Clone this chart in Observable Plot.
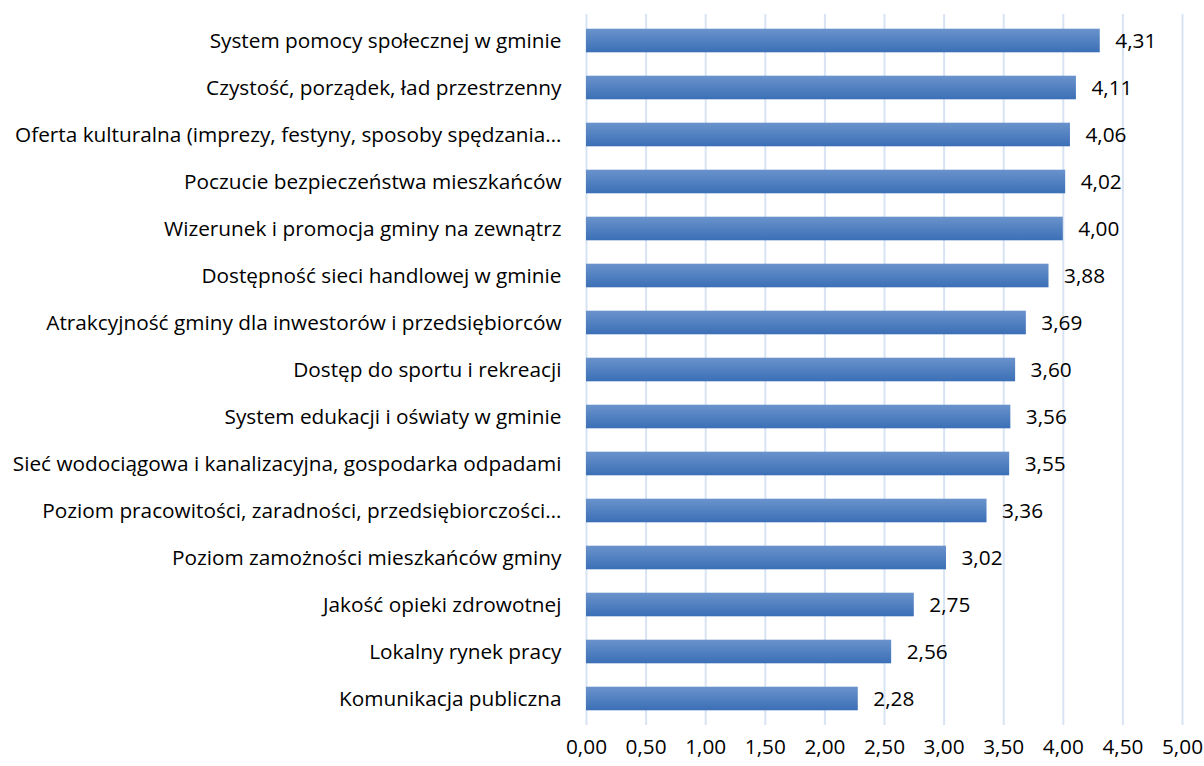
<!DOCTYPE html>
<html>
<head>
<meta charset="utf-8">
<script src="https://cdn.jsdelivr.net/npm/d3@7"></script>
<script src="https://cdn.jsdelivr.net/npm/@observablehq/plot@0.6"></script>
<style>
  html, body { margin: 0; padding: 0; background: #fff; }
  #chart svg { display: block; }
</style>
</head>
<body>
<div id="chart"></div>
<script>
const categories = [
  "System pomocy społecznej w gminie",
  "Czystość, porządek, ład przestrzenny",
  "Oferta kulturalna (imprezy, festyny, sposoby spędzania…",
  "Poczucie bezpieczeństwa mieszkańców",
  "Wizerunek i promocja gminy na zewnątrz",
  "Dostępność sieci handlowej w gminie",
  "Atrakcyjność gminy dla inwestorów i przedsiębiorców",
  "Dostęp do sportu i rekreacji",
  "System edukacji i oświaty w gminie",
  "Sieć wodociągowa i kanalizacyjna, gospodarka odpadami",
  "Poziom pracowitości, zaradności, przedsiębiorczości…",
  "Poziom zamożności mieszkańców gminy",
  "Jakość opieki zdrowotnej",
  "Lokalny rynek pracy",
  "Komunikacja publiczna"
];
const values = [4.31, 4.11, 4.06, 4.02, 4.00, 3.88, 3.69, 3.60, 3.56, 3.55, 3.36, 3.02, 2.75, 2.56, 2.28];
const xTicks = [0, 0.5, 1, 1.5, 2, 2.5, 3, 3.5, 4, 4.5, 5];

const data = categories.map((c, i) => ({category: c, value: values[i]}));
const fmt = v => d3.format(".2f")(v).replace(".", ",");

const font = "'Open Sans', 'Noto Sans', sans-serif";
// pick a font size that gives the longest label its width in the picture
const ctx = document.createElement("canvas").getContext("2d");
ctx.font = "18px 'Open Sans'";
const w18 = ctx.measureText(categories[9]).width;
const fs = Math.max(14, Math.min(22, 18 * 549 / w18));

const gradientDefs = () => {
  const defs = d3.create("svg:defs");
  const g = defs.append("linearGradient")
    .attr("id", "barGrad").attr("x1", 0).attr("y1", 0).attr("x2", 0).attr("y2", 1);
  g.append("stop").attr("offset", "0%").attr("stop-color", "#6a93cc");
  g.append("stop").attr("offset", "100%").attr("stop-color", "#3b6fb6");
  return defs.node();
};

const chart = Plot.plot({
  width: 1204,
  height: 766,
  marginTop: 14,
  marginBottom: 41,
  marginLeft: 586,
  marginRight: 22,
  style: {fontFamily: font, fontSize: fs + "px", color: "#000", background: "#fff"},
  x: {domain: [0, 5], ticks: xTicks, tickFormat: fmt, label: null, tickSize: 0},
  y: {domain: categories, label: null, padding: 0, tickSize: 0},
  marks: [
    gradientDefs,
    Plot.gridX(xTicks, {stroke: "#d8e3f3", strokeOpacity: 1, strokeWidth: 2}),
    Plot.barX(data, {x: "value", y: "category", fill: "url(#barGrad)", insetTop: 11.7, insetBottom: 11.7}),
    Plot.text(data, {x: "value", y: "category", text: d => fmt(d.value), textAnchor: "start", dx: 15, fontSize: fs, fill: "#000"}),
    Plot.axisX({ticks: xTicks, tickFormat: fmt, tickSize: 0, tickPadding: 14, fontSize: fs, label: null}),
    Plot.axisY({tickSize: 0, tickPadding: 25, fontSize: fs, label: null})
  ]
});
document.getElementById("chart").appendChild(chart);
</script>
</body>
</html>
